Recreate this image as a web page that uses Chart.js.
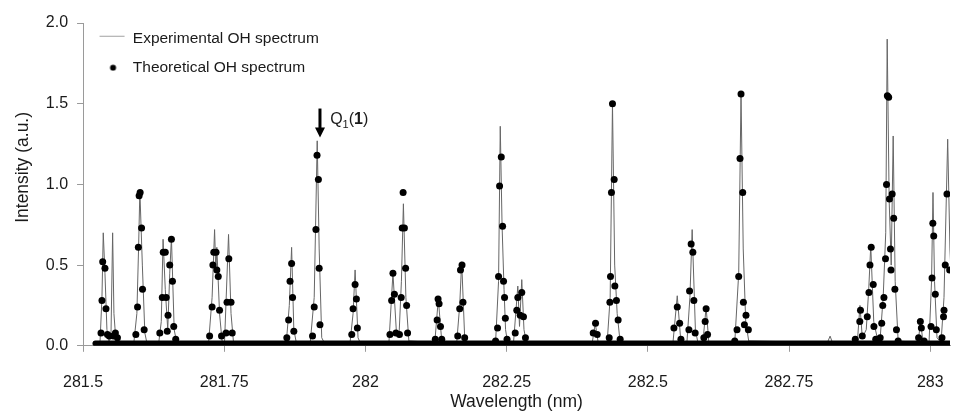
<!DOCTYPE html>
<html>
<head>
<meta charset="utf-8">
<title>OH spectrum</title>
<script src="https://cdn.jsdelivr.net/npm/chart.js@4.4.1/dist/chart.umd.min.js"></script>
<style>
  html, body { margin: 0; padding: 0; background: #fff; }
  #wrap { width: 954px; height: 416px; }
</style>
</head>
<body>
<div id="wrap"><canvas id="spectrumChart"></canvas></div>
<script>
// experimental OH spectrum
const expWavelength = [
  281.5229, 281.5300, 281.5335, 281.5358, 281.5388, 281.5423, 281.5459, 281.5494, 281.5524, 281.5547, 281.5582,
  281.5900, 281.5953, 281.5983, 281.6006, 281.6050, 281.6094, 281.6129,
  281.6341, 281.6385, 281.6417, 281.6456, 281.6500, 281.6535, 281.6565, 281.6614, 281.6658,
  281.7223, 281.7285, 281.7329, 281.7352, 281.7369, 281.7417, 281.7461, 281.7505, 281.7576, 281.7620, 281.7664,
  281.8599, 281.8652, 281.8693, 281.8732, 281.8776,
  281.9023, 281.9093, 281.9146, 281.9181, 281.9226, 281.9270,
  281.9728, 281.9781, 281.9817, 281.9869, 281.9905,
  282.0416, 282.0487, 282.0549, 282.0593, 282.0637, 282.0672, 282.0716, 282.0769,
  282.1228, 282.1290, 282.1351, 282.1616, 282.1669, 282.1704, 282.1757, 282.1792,
  282.2304, 282.2357, 282.2387, 282.2419, 282.2454, 282.2481, 282.2516,
  282.2622, 282.2698, 282.2728, 282.2768, 282.2807, 282.2851,
  282.4016, 282.4069, 282.4121, 282.4280, 282.4333, 282.4374, 282.4413, 282.4457, 282.4510,
  282.5445, 282.5521, 282.5586, 282.5692, 282.5745, 282.5785, 282.5842, 282.5886,
  282.5974, 282.6032, 282.6080, 282.6539, 282.6609, 282.6650, 282.6689, 282.6733, 282.6786,
  282.8179, 282.8227, 282.8268,
  282.8709, 282.8756, 282.8797, 282.8867, 282.8911, 282.8947, 282.9000, 282.9061,
  282.9114, 282.9167, 282.9212, 282.9238, 282.9273, 282.9309, 282.9344, 282.9379, 282.9432,
  282.9785, 282.9829, 282.9873, 282.9979, 283.0023, 283.0049, 283.0076, 283.0120,
  283.0191, 283.0244, 283.0309, 283.0349, 283.0402
];
const expIntensity = [
  0.01, 0.02, 0.30, 0.70, 0.45, 0.10, 0.03, 0.05, 0.70, 0.20, 0.03,
  0.02, 0.20, 0.60, 0.96, 0.50, 0.08, 0.02,
  0.02, 0.15, 0.66, 0.35, 0.10, 0.45, 0.67, 0.10, 0.02,
  0.02, 0.30, 0.72, 0.45, 0.61, 0.20, 0.03, 0.02, 0.69, 0.20, 0.02,
  0.02, 0.25, 0.61, 0.10, 0.02,
  0.02, 0.30, 1.27, 0.60, 0.05, 0.02,
  0.02, 0.20, 0.47, 0.05, 0.02,
  0.02, 0.45, 0.08, 0.05, 0.40, 0.88, 0.30, 0.03,
  0.02, 0.29, 0.03, 0.02, 0.25, 0.52, 0.05, 0.02,
  0.02, 0.40, 1.36, 0.75, 0.35, 0.10, 0.02,
  0.02, 0.37, 0.12, 0.41, 0.10, 0.02,
  0.02, 0.14, 0.02, 0.02, 0.30, 1.50, 0.50, 0.20, 0.02,
  0.02, 0.31, 0.02, 0.02, 0.30, 0.72, 0.10, 0.02,
  0.02, 0.24, 0.02, 0.02, 0.45, 1.56, 0.60, 0.15, 0.03,
  0.02, 0.06, 0.02,
  0.02, 0.25, 0.05, 0.10, 0.35, 0.62, 0.15, 0.05,
  0.05, 0.30, 0.70, 1.90, 0.90, 0.50, 1.30, 0.40, 0.03,
  0.02, 0.15, 0.02, 0.02, 0.40, 0.95, 0.40, 0.05,
  0.02, 0.30, 1.28, 0.60, 0.20
];

// theoretical OH spectrum (dots)
const theoWavelength = [
  281.5318, 281.5335, 281.5348, 281.5388, 281.5406, 281.5432, 281.5464, 281.5538, 281.5573, 281.5609,
  281.5935, 281.5965, 281.5979, 281.5993, 281.6011, 281.6036, 281.6053, 281.6082,
  281.6359, 281.6403, 281.6420, 281.6456, 281.6473, 281.6491, 281.6505, 281.6535, 281.6565, 281.6583, 281.6606, 281.6641,
  281.7241, 281.7285, 281.7299, 281.7315, 281.7355, 281.7369, 281.7394, 281.7417, 281.7452,
  281.7532, 281.7549, 281.7581, 281.7620, 281.7641,
  281.8608, 281.8640, 281.8665, 281.8693, 281.8710, 281.8732,
  281.9063, 281.9093, 281.9123, 281.9143, 281.9167, 281.9181, 281.9195,
  281.9758, 281.9781, 281.9817, 281.9840, 281.9857,
  282.0434, 282.0464, 282.0487, 282.0513, 282.0540,
  282.0602, 282.0633, 282.0651, 282.0667, 282.0690, 282.0711, 282.0729, 282.0746,
  282.1237, 282.1269, 282.1286, 282.1304, 282.1329, 282.1351,
  282.1634, 282.1669, 282.1683, 282.1710, 282.1727, 282.1757,
  282.2304, 282.2339, 282.2357, 282.2375, 282.2405, 282.2428, 282.2445, 282.2463, 282.2477, 282.2507,
  282.2652, 282.2680, 282.2698, 282.2740, 282.2768, 282.2798, 282.2833,
  282.4033, 282.4074, 282.4104,
  282.4316, 282.4328, 282.4339, 282.4356, 282.4374, 282.4404, 282.4416, 282.4444, 282.4474, 282.4510,
  282.5462, 282.5521, 282.5563, 282.5586,
  282.5727, 282.5739, 282.5767, 282.5797, 282.5815, 282.5838,
  282.5992, 282.6015, 282.6032, 282.6057,
  282.6539, 282.6579, 282.6609, 282.6632, 282.6650, 282.6680, 282.6692, 282.6710, 282.6738, 282.6780,
  282.8673, 282.8753, 282.8765, 282.8797, 282.8885, 282.8915, 282.8933, 282.8955, 282.8991, 282.9003, 282.9035,
  282.9114, 282.9141, 282.9159, 282.9180, 282.9208, 282.9226, 282.9241, 282.9264, 282.9278, 282.9296, 282.9305,
  282.9326, 282.9353, 282.9374, 282.9402, 282.9432,
  282.9794, 282.9825, 282.9843, 282.9891,
  283.0014, 283.0032, 283.0046, 283.0062, 283.0090, 283.0108,
  283.0208, 283.0235, 283.0244, 283.0266, 283.0296, 283.0344
];
const theoIntensity = [
  0.08, 0.28, 0.52, 0.48, 0.23, 0.07, 0.06, 0.06, 0.08, 0.05,
  0.07, 0.24, 0.61, 0.93, 0.95, 0.73, 0.35, 0.10,
  0.08, 0.30, 0.58, 0.58, 0.30, 0.09, 0.19, 0.50, 0.66, 0.40, 0.12, 0.04,
  0.06, 0.24, 0.50, 0.58, 0.58, 0.47, 0.43, 0.22, 0.06,
  0.08, 0.27, 0.54, 0.27, 0.08,
  0.05, 0.16, 0.40, 0.51, 0.30, 0.09,
  0.06, 0.24, 0.72, 1.18, 1.03, 0.48, 0.13,
  0.07, 0.23, 0.38, 0.29, 0.11,
  0.07, 0.28, 0.45, 0.32, 0.08,
  0.07, 0.30, 0.73, 0.95, 0.73, 0.48, 0.25, 0.08,
  0.04, 0.16, 0.29, 0.26, 0.12, 0.04,
  0.06, 0.23, 0.47, 0.50, 0.27, 0.05,
  0.03, 0.11, 0.43, 0.99, 1.17, 0.74, 0.40, 0.30, 0.17, 0.04,
  0.08, 0.22, 0.30, 0.19, 0.33, 0.18, 0.05,
  0.08, 0.14, 0.07,
  0.05, 0.27, 0.43, 0.95, 1.50, 1.03, 0.37, 0.28, 0.16, 0.04,
  0.11, 0.24, 0.14, 0.04,
  0.10, 0.34, 0.63, 0.58, 0.28, 0.08,
  0.05, 0.15, 0.23, 0.07,
  0.03, 0.10, 0.43, 1.16, 1.56, 0.95, 0.27, 0.13, 0.19, 0.10,
  0.04, 0.15, 0.22, 0.06, 0.18, 0.33, 0.50, 0.61, 0.38, 0.12, 0.04,
  0.05, 0.14, 0.25, 0.30, 0.54, 1.00, 1.55, 1.54, 0.91, 0.60, 0.47,
  0.94, 0.79, 0.35, 0.10, 0.03,
  0.05, 0.15, 0.11, 0.03,
  0.12, 0.42, 0.76, 0.68, 0.32, 0.10,
  0.05, 0.18, 0.22, 0.50, 0.94, 0.47
];

// dense theoretical dots along the baseline form a solid band
const baselineWavelength = [281.522, 283.035];
const baselineIntensity = [0.015, 0.015];

const xTickValues = [281.5, 281.75, 282, 282.25, 282.5, 282.75, 283];
const xTickLabels = ['281.5', '281.75', '282', '282.25', '282.5', '282.75', '283'];
const yTickLabels = ['0.0', '0.5', '1.0', '1.5', '2.0'];

const seriesNames = ['Experimental OH spectrum', 'Theoretical OH spectrum'];
const xAxisTitle = 'Wavelength (nm)';
const yAxisTitle = 'Intensity (a.u.)';

// Q1(1) marker
const noteWavelength = 281.9195;
const noteArrowTop = 1.47;
const noteArrowTip = 1.29;
const noteTextWavelength = 281.9375;
const noteTextIntensity = 1.40;

const FONT = '"Liberation Sans", Arial, Helvetica, sans-serif';
const TEXT = '#1a1a1a';
const AXIS = '#9a9a9a';

function toPoints(xs, ys) {
    return xs.map((x, i) => ({ x: x, y: ys[i] }));
}

// legend swatches
function lineSwatch() {
    const c = document.createElement('canvas');
    c.width = 32; c.height = 8;
    const g = c.getContext('2d');
    g.fillStyle = '#a0a0a0';
    g.fillRect(5, 1, 25, 1);
    return c;
}
function dotSwatch() {
    const c = document.createElement('canvas');
    c.width = 32; c.height = 8;
    const g = c.getContext('2d');
    g.fillStyle = '#000';
    g.beginPath();
    g.arc(18.5, 4.5, 3, 0, Math.PI * 2);
    g.fill();
    return c;
}
const swatches = [lineSwatch(), dotSwatch()];

const notePlugin = {
    id: 'q11Note',
    afterDatasetsDraw(chart) {
        const { ctx, scales } = chart;
        const x = scales.x.getPixelForValue(noteWavelength);
        const yTop = scales.y.getPixelForValue(noteArrowTop);
        const yTip = scales.y.getPixelForValue(noteArrowTip);
        ctx.save();
        ctx.fillStyle = '#000';
        ctx.fillRect(x - 1.5, yTop, 3, yTip - yTop - 9);
        ctx.beginPath();
        ctx.moveTo(x - 5, yTip - 10);
        ctx.lineTo(x + 5, yTip - 10);
        ctx.lineTo(x, yTip);
        ctx.closePath();
        ctx.fill();

        let tx = scales.x.getPixelForValue(noteTextWavelength);
        const ty = scales.y.getPixelForValue(noteTextIntensity);
        ctx.fillStyle = TEXT;
        ctx.textBaseline = 'middle';
        ctx.textAlign = 'left';
        const parts = [
            ['Q', '16px ' + FONT, 0],
            ['1', '11px ' + FONT, 5],
            ['(', '16px ' + FONT, 0],
            ['1', 'bold 16px ' + FONT, 0],
            [')', '16px ' + FONT, 0]
        ];
        parts.forEach(p => {
            ctx.font = p[1];
            ctx.fillText(p[0], tx, ty + p[2]);
            tx += ctx.measureText(p[0]).width;
        });
        ctx.restore();
    }
};

const ctx = document.getElementById('spectrumChart').getContext('2d');
const chart = new Chart(ctx, {
    type: 'line',
    data: {
        datasets: [{
            label: seriesNames[0],
            data: toPoints(expWavelength, expIntensity),
            borderColor: '#666',
            borderWidth: 1,
            pointRadius: 0,
            tension: 0,
            fill: false,
            order: 3
        }, {
            label: 'baseline',
            data: toPoints(baselineWavelength, baselineIntensity),
            borderColor: '#000',
            borderWidth: 6,
            borderCapStyle: 'round',
            pointRadius: 0,
            fill: false,
            order: 2
        }, {
            label: seriesNames[1],
            data: toPoints(theoWavelength, theoIntensity),
            showLine: false,
            pointRadius: 3.5,
            pointBackgroundColor: '#000',
            pointBorderWidth: 0,
            pointStyle: 'circle',
            order: 1
        }]
    },
    options: {
        responsive: true,
        maintainAspectRatio: false,
        animation: false,
        devicePixelRatio: 1,
        layout: { padding: { left: 8, top: 23, right: 1, bottom: 0 } },
        plugins: {
            tooltip: { enabled: false },
            legend: {
                position: 'chartArea',
                align: 'start',
                // empty title only pushes the entries down inside the plot
                title: { display: true, text: '', font: { size: 10 }, padding: { top: 6, bottom: 0 } },
                labels: {
                    usePointStyle: true,
                    pointStyleWidth: 29,
                    padding: 13,
                    color: TEXT,
                    font: { family: FONT, size: 15.5 },
                    generateLabels: () => [0, 2].map((di, k) => ({
                        text: seriesNames[k],
                        pointStyle: swatches[k],
                        fillStyle: '#000',
                        strokeStyle: '#000',
                        lineWidth: 0,
                        hidden: false,
                        datasetIndex: di,
                        fontColor: TEXT
                    }))
                }
            }
        },
        scales: {
            x: {
                type: 'linear',
                min: 281.5,
                max: 283.035,
                afterBuildTicks: axis => {
                    axis.ticks = xTickValues.map(v => ({ value: v }));
                },
                afterFit: axis => {
                    axis.paddingRight = 0;
                },
                border: { color: AXIS, width: 1 },
                grid: { display: true, drawOnChartArea: false, drawTicks: true, tickLength: 6, color: AXIS },
                ticks: {
                    autoSkip: false,
                    maxRotation: 0,
                    padding: 21,
                    color: TEXT,
                    font: { family: FONT, size: 16 },
                    callback: (value, index) => xTickLabels[index]
                },
                title: {
                    display: true,
                    text: xAxisTitle,
                    color: TEXT,
                    font: { family: FONT, size: 17.5 },
                    padding: { top: -21, bottom: 3 }
                }
            },
            y: {
                min: 0,
                max: 2,
                border: { color: AXIS, width: 1 },
                grid: { display: true, drawOnChartArea: false, drawTicks: true, tickLength: 6, color: AXIS },
                ticks: {
                    stepSize: 0.5,
                    padding: 9,
                    color: TEXT,
                    font: { family: FONT, size: 16 },
                    callback: (value, index) => yTickLabels[index]
                },
                title: {
                    display: true,
                    // leading spaces lift the label above the axis centre like the original
                    text: '       ' + yAxisTitle,
                    color: TEXT,
                    font: { family: FONT, size: 17.5 },
                    padding: { top: 4.5, bottom: 3.3 }
                }
            }
        }
    },
    plugins: [notePlugin]
});
</script>
</body>
</html>
